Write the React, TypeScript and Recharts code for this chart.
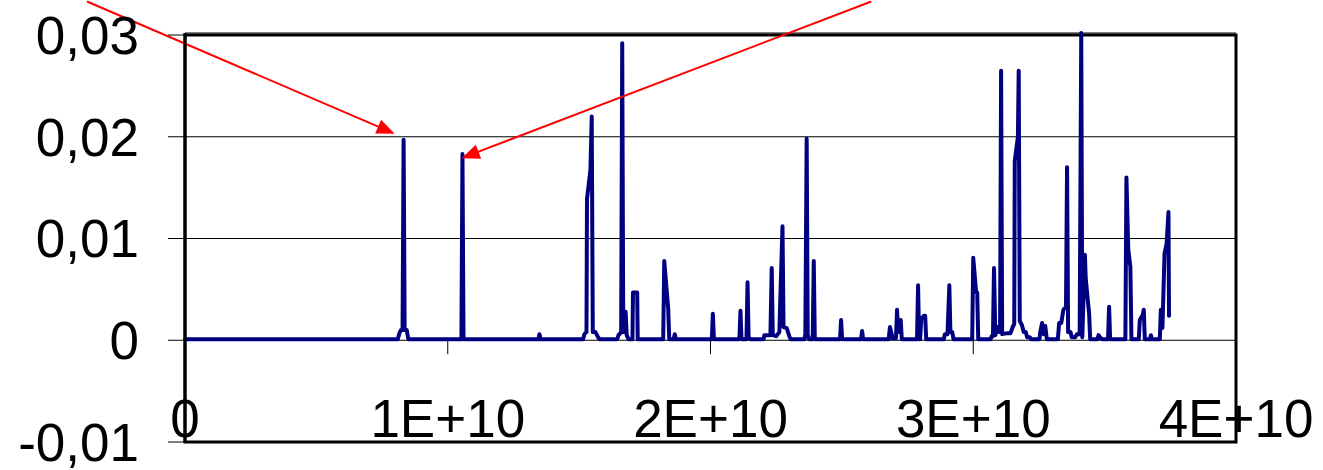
import React from "react";
import {
  LineChart,
  Line,
  XAxis,
  YAxis,
  CartesianGrid,
  ReferenceLine,
  ReferenceArea,
} from "recharts";

// x values in units of 1E+9, y values
const traceA: [number, number][] = [
  [0, 0.0001], [8.1, 0.0001], [8.16, 0.0007], [8.22, 0.001], [8.28, 0.001],
  [8.32, 0.0197], [8.36, 0.001], [8.44, 0.001], [8.5, 0.0001],
  [10.52, 0.0001], [10.56, 0.0183], [10.6, 0.0001],
  [13.45, 0.0001], [13.49, 0.0006], [13.53, 0.0001],
  [15.15, 0.0001], [15.2, 0.0006], [15.28, 0.0008], [15.3, 0.0139], [15.43, 0.0167],
  [15.48, 0.022], [15.52, 0.0008], [15.62, 0.0008], [15.72, 0.0003], [15.78, 0.0001],
];

const traceB: [number, number][] = [
  [16.45, 0.0001], [16.5, 0.0005], [16.6, 0.0008], [16.64, 0.0292], [16.68, 0.0008],
  [16.74, 0.0008], [16.77, 0.0028], [16.81, 0.0005], [16.88, 0.0001],
  [17.03, 0.0001], [17.05, 0.0047], [17.21, 0.0047], [17.23, 0.0001],
  [18.2, 0.0001], [18.24, 0.0078], [18.39, 0.0031], [18.43, 0.0001],
  [18.6, 0.0001], [18.64, 0.0006], [18.68, 0.0001],
  [20.05, 0.0001], [20.09, 0.0026], [20.13, 0.0001],
  [21.1, 0.0001], [21.14, 0.0029], [21.18, 0.0001],
  [21.37, 0.0001], [21.41, 0.0057], [21.45, 0.0003], [21.52, 0.0001],
  [22.02, 0.0001], [22.05, 0.0005], [22.28, 0.0005], [22.33, 0.0071], [22.37, 0.0005],
  [22.5, 0.0004], [22.62, 0.0008], [22.74, 0.0112], [22.78, 0.0013], [22.9, 0.0012],
  [23.0, 0.0004], [23.05, 0.0001],
  [23.58, 0.0001], [23.61, 0.0007], [23.66, 0.0198], [23.7, 0.0005], [23.76, 0.0001],
  [23.89, 0.0001], [23.93, 0.0078], [23.97, 0.0001],
  [24.93, 0.0001], [24.97, 0.002], [25.01, 0.0001],
];

const traceC: [number, number][] = [
  [25.73, 0.0001], [25.77, 0.0009], [25.81, 0.0001],
  [26.78, 0.0001], [26.83, 0.0013], [26.93, 0.0002], [27.06, 0.0002], [27.1, 0.003],
  [27.14, 0.0008], [27.2, 0.0008], [27.24, 0.002], [27.28, 0.0001],
  [27.86, 0.0001], [27.9, 0.0054], [27.94, 0.0001], [27.98, 0.0001], [28.02, 0.0021],
  [28.12, 0.0024], [28.17, 0.0024], [28.21, 0.0001],
  [28.88, 0.0001], [28.92, 0.0006], [29.02, 0.0006], [29.09, 0.0054], [29.13, 0.0008],
  [29.2, 0.0008], [29.25, 0.0001],
  [29.96, 0.0001], [30.0, 0.0081], [30.11, 0.0047], [30.15, 0.0047], [30.19, 0.0001],
  [30.66, 0.0001], [30.7, 0.0004], [30.75, 0.0004], [30.79, 0.0071], [30.84, 0.0005],
  [30.92, 0.0013], [30.98, 0.0008], [31.02, 0.0008], [31.06, 0.0265], [31.1, 0.0006],
  [31.3, 0.0007], [31.42, 0.0007], [31.5, 0.0013], [31.56, 0.0016], [31.58, 0.0176],
  [31.7, 0.02], [31.73, 0.0265], [31.77, 0.0019], [31.85, 0.0015], [31.92, 0.0008],
  [32.0, 0.0008], [32.05, 0.0003], [32.15, 0.0003], [32.2, 0.0001],
];

const traceD: [number, number][] = [
  [32.52, 0.0001], [32.55, 0.0008], [32.62, 0.0017], [32.68, 0.0006], [32.74, 0.0014],
  [32.8, 0.0001],
  [33.22, 0.0001], [33.27, 0.0017], [33.35, 0.0017], [33.43, 0.003], [33.53, 0.0033],
  [33.57, 0.017], [33.61, 0.0008], [33.7, 0.0008], [33.75, 0.0003], [33.88, 0.0003],
  [33.95, 0.0006], [34.05, 0.0006], [34.11, 0.0302], [34.15, 0.0003], [34.25, 0.0084],
  [34.28, 0.0061], [34.41, 0.0026], [34.45, 0.0001],
  [34.72, 0.0001], [34.77, 0.0005], [34.85, 0.0002], [34.92, 0.0001],
  [35.13, 0.0001], [35.17, 0.0033], [35.21, 0.0001],
  [35.79, 0.0001], [35.83, 0.016], [35.9, 0.0089], [35.98, 0.0072], [36.02, 0.0001],
  [36.3, 0.0001], [36.34, 0.002], [36.45, 0.0025], [36.49, 0.003], [36.53, 0.0001],
  [36.72, 0.0001], [36.76, 0.0005], [36.8, 0.0001],
  [37.1, 0.0001], [37.14, 0.003], [37.2, 0.0012], [37.28, 0.0085], [37.36, 0.0095],
  [37.43, 0.0126], [37.45, 0.0024],
];

const xTickValues = [0, 1e10, 2e10, 3e10, 4e10];
const xTickLabels = ["0", "1E+10", "2E+10", "3E+10", "4E+10"];
const yTickValues = [-0.01, 0, 0.01, 0.02, 0.03];
const yTickLabels = ["-0,01", "0", "0,01", "0,02", "0,03"];
const innerTickValues = [1e10, 2e10, 3e10];

// annotation arrows: [startX, startY, tipX, tipY] in data units
const arrows: [number, number, number, number][] = [
  [-3.73e9, 0.0333, 7.98e9, 0.0203],
  [26.12e9, 0.0333, 10.53e9, 0.0179],
];

const data = [...traceA, ...traceB, ...traceC, ...traceD].map(([x, y]) => ({
  x: x * 1e9,
  y,
}));

const FONT = "'Liberation Sans', Arial, Helvetica, sans-serif";

const XTick = (props: any) => {
  const { x, y, payload } = props;
  const i = xTickValues.indexOf(payload.value);
  return (
    <text
      x={x}
      y={y - 5.5}
      textAnchor="middle"
      fontFamily={FONT}
      fontSize={53}
      fill="#000"
    >
      {i >= 0 ? xTickLabels[i] : ""}
    </text>
  );
};

const ArrowShape = (props: any) => {
  const { x1, y1, x2, y2 } = props;
  const dx = x2 - x1;
  const dy = y2 - y1;
  const len = Math.sqrt(dx * dx + dy * dy) || 1;
  const ux = dx / len;
  const uy = dy / len;
  const headLen = 18;
  const headHalf = 7.5;
  const bx = x2 - ux * headLen;
  const by = y2 - uy * headLen;
  const px = -uy;
  const py = ux;
  return (
    <g>
      <line x1={x1} y1={y1} x2={bx + ux * 2} y2={by + uy * 2} stroke="#ff0000" strokeWidth={2} />
      <polygon
        points={`${x2},${y2} ${bx + px * headHalf},${by + py * headHalf} ${bx - px * headHalf},${by - py * headHalf}`}
        fill="#ff0000"
      />
    </g>
  );
};

export default function App() {
  return (
    <div style={{ position: "absolute", left: 0, top: 0, width: 1323, height: 470, background: "#fff" }}>
      <LineChart
        width={1323}
        height={470}
        data={data}
        margin={{ top: 33, right: 87, bottom: 0, left: 0 }}
      >
        <CartesianGrid vertical={false} stroke="#000" strokeWidth={1} />
        <XAxis
          dataKey="x"
          type="number"
          domain={[0, 4e10]}
          ticks={xTickValues}
          interval={0}
          height={28}
          tickSize={0}
          tickMargin={0}
          axisLine={false}
          tickLine={false}
          tick={<XTick />}
        />
        <YAxis
          type="number"
          domain={[-0.01, 0.03]}
          ticks={yTickValues}
          interval={0}
          width={185}
          tickSize={17}
          tickMargin={29}
          axisLine={{ stroke: "#000", strokeWidth: 3 }}
          tickLine={{ stroke: "#000", strokeWidth: 1 }}
          tick={{ fontFamily: FONT, fontSize: 53, fill: "#000" }}
          tickFormatter={(v: number) => {
            const i = yTickValues.indexOf(v);
            return i >= 0 ? yTickLabels[i] : String(v);
          }}
        />
        <ReferenceArea
          x1={0}
          x2={4e10}
          y1={-0.01}
          y2={0.03}
          fill="none"
          fillOpacity={0}
          stroke="#000"
          strokeWidth={3}
          ifOverflow="visible"
        />
        {innerTickValues.map((v) => (
          <ReferenceLine
            key={`t${v}`}
            segment={[
              { x: v, y: 0 },
              { x: v, y: -0.00137 },
            ]}
            stroke="#000"
            strokeWidth={1}
            ifOverflow="visible"
          />
        ))}
        <Line
          type="linear"
          dataKey="y"
          stroke="#000080"
          strokeWidth={4}
          strokeLinejoin="round"
          strokeLinecap="round"
          dot={false}
          activeDot={false}
          isAnimationActive={false}
        />
        {arrows.map((a, i) => (
          <ReferenceLine
            key={`a${i}`}
            segment={[
              { x: a[0], y: a[1] },
              { x: a[2], y: a[3] },
            ]}
            ifOverflow="visible"
            shape={(p: any) => <ArrowShape {...p} />}
          />
        ))}
      </LineChart>
    </div>
  );
}
